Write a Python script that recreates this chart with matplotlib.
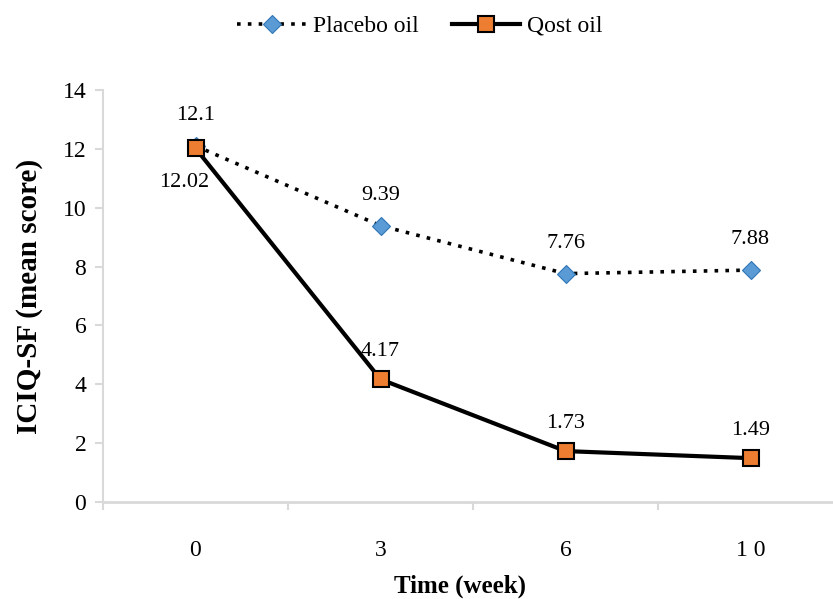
import matplotlib.pyplot as plt

# Datos
semanas = ["0", "3", "6", "1 0"]
placebo = [12.1, 9.39, 7.76, 7.88]
qost = [12.02, 4.17, 1.73, 1.49]
etiquetas_placebo = ["12.1", "9.39", "7.76", "7.88"]
etiquetas_qost = ["12.02", "4.17", "1.73", "1.49"]

plt.rcParams["font.family"] = ["Liberation Serif", "DejaVu Serif"]

fig = plt.figure(figsize=(8.33, 5.99), dpi=100)
ax = fig.add_axes([103 / 833, 97 / 599, 740 / 833, 412 / 599])

x = list(range(len(semanas)))

ax.plot(x, placebo, linestyle=(0, (1, 2.0)), color="black", linewidth=2.6,
        marker="D", markersize=9.5, markerfacecolor="#5b9bd5",
        markeredgecolor="#2e75b6", markeredgewidth=0.8, label="Placebo oil", zorder=3)
ax.plot(x, qost, linestyle="-", color="black", linewidth=3,
        marker="s", markersize=12, markerfacecolor="#ed7d31",
        markeredgecolor="black", markeredgewidth=1.5, label="Qost oil", zorder=4)

# etiquetas de datos
for i, (v, t) in enumerate(zip(placebo, etiquetas_placebo)):
    ax.annotate(t, (i, v), xytext=(0, 15), textcoords="offset points",
                ha="center", va="bottom", fontsize=16)
for i, (v, t) in enumerate(zip(qost, etiquetas_qost)):
    if i == 0:
        ax.annotate(t, (i, v), xytext=(-8, -18), textcoords="offset points",
                    ha="center", va="top", fontsize=16)
    else:
        ax.annotate(t, (i, v), xytext=(0, 13), textcoords="offset points",
                    ha="center", va="bottom", fontsize=16)

ax.set_xlim(-0.5, 3.5)
ax.set_ylim(0, 14)
ax.set_yticks(range(0, 15, 2))
ax.set_xticks(x)
ax.set_xticklabels(semanas)
ax.set_xticks([-0.5, 0.5, 1.5, 2.5, 3.5], minor=True)

for s in ["top", "right"]:
    ax.spines[s].set_visible(False)
ax.spines["left"].set_color("#d9d9d9")
ax.spines["bottom"].set_color("#d9d9d9")
ax.spines["left"].set_linewidth(1.5)
ax.spines["bottom"].set_linewidth(2)

ax.tick_params(axis="y", length=6, color="#d9d9d9", width=1.5, labelsize=17, pad=6)
ax.tick_params(axis="x", which="major", length=0, labelsize=17, pad=27)
ax.tick_params(axis="x", which="minor", length=6, color="#d9d9d9", width=1.5)

ax.set_ylabel("ICIQ-SF (mean score)", fontsize=21, fontweight="bold", labelpad=14)
fig.text(460 / 833, 1 - 586 / 599, "Time (week)", fontsize=18, fontweight="bold",
         ha="center", va="center")

fig.legend(loc="center", bbox_to_anchor=(420 / 833, 1 - 26 / 599), ncol=2,
           frameon=False, fontsize=17, handlelength=2.9, columnspacing=1.4,
           handletextpad=0.3)

fig.savefig("out.png", dpi=100)
